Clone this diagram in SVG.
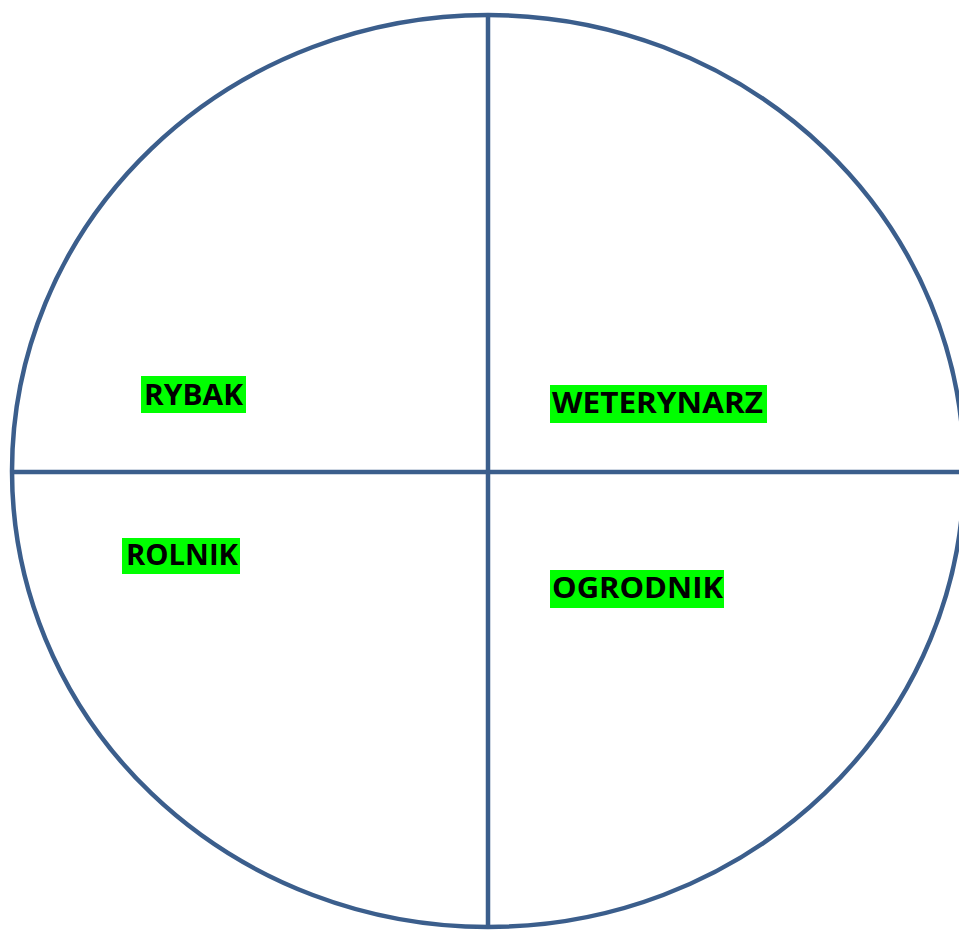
<svg xmlns="http://www.w3.org/2000/svg" width="959" height="930" viewBox="0 0 959 930">
<style>
.ln{fill:none;stroke:#3B5E8C;stroke-width:4.5}
.hl{fill:#00FF00}
.t{font-family:"Open Sans","Noto Sans","Liberation Sans",sans-serif;font-weight:bold;font-size:29px;fill:#000}
</style>
<rect width="959" height="930" fill="#fff"/>
<g id="connectors">
<ellipse class="ln" cx="488" cy="471" rx="476" ry="456"/>
<line class="ln" x1="12" y1="472" x2="959" y2="472"/>
<line class="ln" x1="488" y1="15" x2="488" y2="928"/>
</g>
<g id="rybak">
<rect class="hl" x="141" y="376" width="105" height="37"/>
<text class="t" x="144" y="405" textLength="99" lengthAdjust="spacingAndGlyphs">RYBAK</text>
</g>
<g id="weterynarz">
<rect class="hl" x="550" y="385" width="217" height="38"/>
<text class="t" x="552" y="413" textLength="211" lengthAdjust="spacingAndGlyphs">WETERYNARZ</text>
</g>
<g id="rolnik">
<rect class="hl" x="122" y="538" width="118" height="36"/>
<text class="t" x="126" y="565" textLength="112" lengthAdjust="spacingAndGlyphs">ROLNIK</text>
</g>
<g id="ogrodnik">
<rect class="hl" x="550" y="570" width="174" height="38"/>
<text class="t" x="552" y="598" textLength="171" lengthAdjust="spacingAndGlyphs">OGRODNIK</text>
</g>
</svg>
